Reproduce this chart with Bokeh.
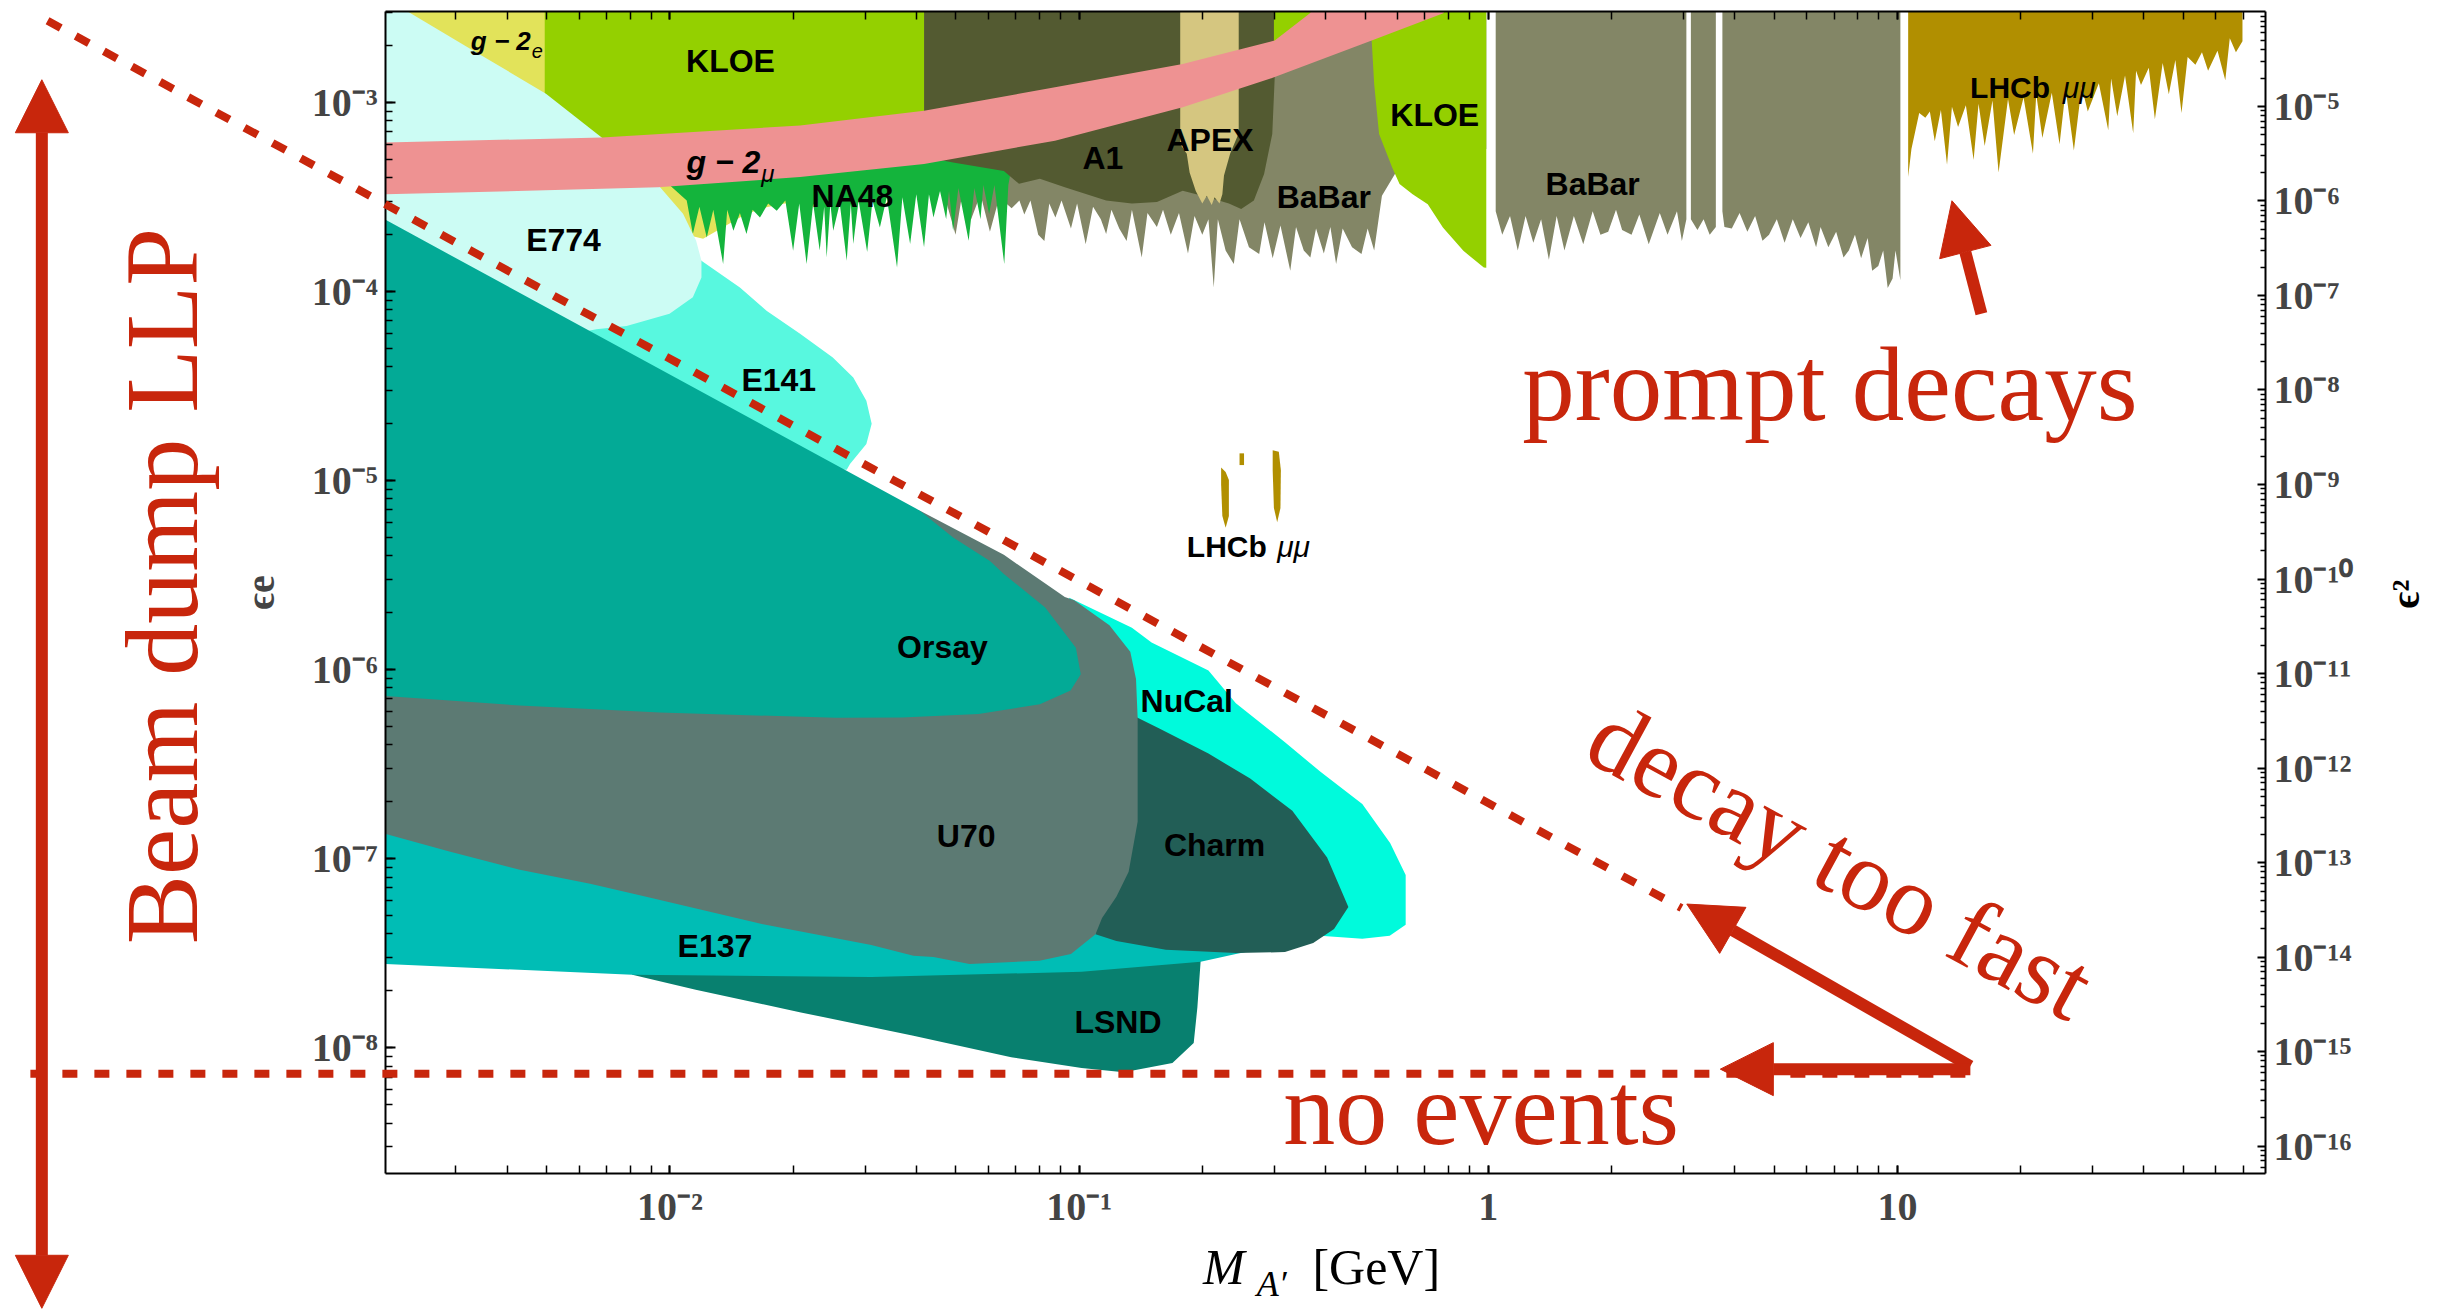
import numpy as np
from bokeh.plotting import figure
from bokeh.models import (Range1d, LogAxis, LogScale, LogTicker, FixedTicker, Label,
                          Arrow, NormalHead, ColumnDataSource, CustomJSTickFormatter)
from bokeh.core.properties import value
from bokeh.embed import file_html
from bokeh.resources import INLINE

# ---------------- data: outlines as log10(M_A'/GeV), log10(eps) ----------------
# plotted box (axes extent) and the surrounding view used for the annotations
box_m = (0.00202, 79.3)
box_eps = (2.16e-9, 3.03e-3)
box_eps2 = (5.13e-17, 1.01e-4)
view_m = (2.312e-4, 212.3)
view_eps = (4.077e-10, 3.461e-3)
view_eps2 = (1.821e-18, 1.322e-4)

g2e_logm = [-2.695, -1.348, -1.348, -1.764, -1.813, -1.919, -1.959, -2.493]
g2e_logeps = [-2.519, -2.519, -3.370, -3.555, -3.589, -3.721, -3.700, -3.287]

kloe1_logm = [-2.306, -1.379, -1.379, -2.306]
kloe1_logeps = [-2.519, -2.519, -3.287, -3.287]

babar_a_logm = [-1.329, -1.302, -1.287, -1.264, -1.241, -1.218, -1.195, -1.165, -1.146, -1.134,
                -1.119, -1.100, -1.085, -1.073, -1.058, -1.043, -1.020, -1.005, -0.984, -0.966,
                -0.947, -0.934, -0.921, -0.902, -0.884, -0.871, -0.847, -0.833, -0.810, -0.795,
                -0.776, -0.756, -0.734, -0.718, -0.699, -0.684, -0.671, -0.661, -0.642, -0.622,
                -0.608, -0.585, -0.560, -0.547, -0.527, -0.508, -0.484, -0.470, -0.451, -0.435,
                -0.421, -0.402, -0.386, -0.372, -0.356, -0.333, -0.310, -0.295, -0.279,
                -0.260, -0.203, -0.005, -0.005, -1.329]
babar_a_logeps = [-3.494, -3.700, -3.502, -3.618, -3.486, -3.684, -3.502, -3.560, -3.519, -3.593,
                  -3.519, -3.700, -3.733, -3.535, -3.609, -3.519, -3.667, -3.535, -3.750, -3.552,
                  -3.618, -3.696, -3.568, -3.667, -3.733, -3.568, -3.820, -3.585, -3.659, -3.568,
                  -3.700, -3.585, -3.799, -3.601, -3.700, -3.618, -3.979, -3.618, -3.783, -3.855,
                  -3.618, -3.766, -3.802, -3.634, -3.824, -3.651, -3.890, -3.659, -3.783, -3.820,
                  -3.667, -3.799, -3.659, -3.855, -3.667, -3.766, -3.802, -3.667, -3.783,
                  -3.494, -3.287, -3.246, -2.519, -2.519]
babar_b_logm = [0.018, 0.484, 0.484, 0.473, 0.461, 0.438, 0.419, 0.392, 0.369, 0.350, 0.327, 0.312,
                0.293, 0.274, 0.255, 0.232, 0.209, 0.186, 0.167, 0.148, 0.129, 0.110, 0.091, 0.072,
                0.053, 0.034, 0.018]
babar_b_logeps = [-2.519, -2.519, -3.618, -3.733, -3.576, -3.700, -3.585, -3.750, -3.593, -3.700,
                  -3.675, -3.568, -3.684, -3.700, -3.576, -3.750, -3.601, -3.783, -3.601, -3.832,
                  -3.618, -3.742, -3.601, -3.783, -3.601, -3.700, -3.576]
babar_c_logm = [0.495, 0.556, 0.556, 0.541, 0.526, 0.511, 0.495]
babar_c_logeps = [-2.519, -2.519, -3.659, -3.700, -3.618, -3.675, -3.618]
babar_d_logm = [0.572, 1.007, 1.007, 0.995, 0.988, 0.976, 0.965, 0.953, 0.938, 0.927, 0.911, 0.896,
                0.881, 0.868, 0.850, 0.831, 0.812, 0.801, 0.782, 0.763, 0.744, 0.724, 0.705, 0.686,
                0.670, 0.652, 0.633, 0.614, 0.595, 0.577, 0.572]
babar_d_logeps = [-2.519, -2.519, -3.940, -3.783, -3.931, -3.981, -3.783, -3.865, -3.890, -3.717,
                  -3.824, -3.700, -3.783, -3.820, -3.684, -3.766, -3.659, -3.766, -3.634, -3.717,
                  -3.618, -3.742, -3.618, -3.700, -3.732, -3.601, -3.684, -3.585, -3.667, -3.659,
                  -3.576]

na48_logm = [-2.035, -1.959, -1.944, -1.928, -1.910, -1.894, -1.870, -1.860, -1.845, -1.829,
             -1.813, -1.798, -1.780, -1.760, -1.739, -1.718, -1.699, -1.684, -1.666, -1.650,
             -1.634, -1.623, -1.617, -1.608, -1.601, -1.585, -1.568, -1.558, -1.552, -1.539,
             -1.518, -1.505, -1.487, -1.470, -1.445, -1.432, -1.413, -1.398, -1.379, -1.367,
             -1.356, -1.340, -1.325, -1.318, -1.308, -1.295, -1.270, -1.256, -1.241, -1.234,
             -1.220, -1.207, -1.183, -1.173, -1.157]
na48_logeps = [-3.370, -3.519, -3.696, -3.552, -3.714, -3.568, -3.855, -3.568, -3.679, -3.585,
               -3.696, -3.568, -3.609, -3.535, -3.573, -3.519, -3.785, -3.535, -3.855, -3.535,
               -3.783, -3.552, -3.820, -3.535, -3.679, -3.535, -3.837, -3.535, -3.749, -3.519,
               -3.791, -3.519, -3.661, -3.502, -3.873, -3.502, -3.749, -3.486, -3.766, -3.486,
               -3.609, -3.469, -3.618, -3.469, -3.679, -3.453, -3.732, -3.453, -3.618, -3.436,
               -3.590, -3.436, -3.855, -3.436, -3.246]

a1_logm = [-1.379, -0.522, -0.522, -0.528, -0.548, -0.573, -0.604, -0.634, -0.685, -0.747,
           -0.810, -0.871, -0.934, -1.035, -1.096, -1.147, -1.184, -1.308, -1.379]
a1_logeps = [-2.519, -2.519, -2.866, -3.167, -3.378, -3.519, -3.563, -3.535, -3.502, -3.467,
             -3.527, -3.535, -3.519, -3.449, -3.403, -3.430, -3.362, -3.317, -3.287]

apex_logm = [-0.753, -0.610, -0.610, -0.631, -0.646, -0.650, -0.657, -0.669, -0.676, -0.688,
             -0.699, -0.715, -0.730, -0.737, -0.753]
apex_logeps = [-2.519, -2.519, -3.163, -3.271, -3.386, -3.486, -3.535, -3.502, -3.543, -3.494,
               -3.535, -3.469, -3.370, -3.271, -3.221]

kloe2_logm = [-0.524, -0.005, -0.005, -0.011, -0.061, -0.111, -0.148, -0.185, -0.217, -0.235,
              -0.267, -0.279, -0.285, -0.394, -0.524]
kloe2_logeps = [-2.519, -2.519, -3.874, -3.873, -3.785, -3.661, -3.538, -3.485, -3.432, -3.344,
                -3.167, -2.903, -2.673, -2.709, -2.751]

lhcb_logm = [1.026, 1.843,
             1.843, 1.827, 1.812, 1.801, 1.782, 1.759, 1.744, 1.728, 1.709, 1.694,
             1.679, 1.663, 1.648, 1.629, 1.614, 1.595, 1.583, 1.576, 1.556, 1.537,
             1.522, 1.515, 1.492, 1.465, 1.450, 1.431, 1.411, 1.396, 1.377, 1.354,
             1.339, 1.331, 1.308, 1.285, 1.270, 1.247, 1.232, 1.213, 1.198, 1.186,
             1.167, 1.148, 1.133, 1.121, 1.106, 1.091, 1.079, 1.068, 1.053, 1.034, 1.026]
lhcb_logeps = [-2.519, -2.519,
               -2.676, -2.734, -2.660, -2.883, -2.726, -2.833, -2.734, -2.800, -2.759, -3.056,
               -2.775, -2.957, -2.792, -3.089, -2.817, -2.908, -2.833, -3.163, -2.858, -3.073,
               -2.874, -3.147, -2.899, -3.048, -2.916, -3.254, -2.932, -3.221, -2.949, -3.188,
               -2.957, -3.271, -2.974, -3.172, -2.982, -3.370, -2.990, -3.230, -3.007, -3.304,
               -3.015, -3.130, -3.023, -3.329, -3.040, -3.205, -3.048, -3.081, -3.056, -3.246,
               -3.395]
lhcb_isl_logm = [[-0.653, -0.642, -0.634, -0.634, -0.642, -0.650, -0.653],
                 [-0.527, -0.512, -0.507, -0.508, -0.516, -0.524, -0.527],
                 [-0.608, -0.597, -0.597, -0.608]]
lhcb_isl_logeps = [[-4.931, -4.955, -4.997, -5.187, -5.249, -5.187, -5.021],
                   [-4.840, -4.848, -4.946, -5.145, -5.220, -5.145, -4.946],
                   [-4.856, -4.856, -4.918, -4.918]]

e141_logm = [-2.035, -1.923, -1.829, -1.764, -1.682, -1.602, -1.552, -1.520, -1.507, -1.520,
             -1.560, -1.568, -1.653, -2.493, -2.493]
e141_logeps = [-3.618, -3.837, -3.979, -4.102, -4.224, -4.349, -4.455, -4.578, -4.699, -4.807,
               -4.912, -4.943, -4.939, -4.113, -3.700]

e774_logm = [-2.695, -2.641, -2.474, -2.303, -2.166, -2.092, -2.024, -1.968, -1.936,
             -1.923, -1.923, -1.944, -2.001, -2.106, -2.180, -2.226, -2.695]
e774_logeps = [-2.519, -2.519, -2.734, -2.954, -3.187, -3.320, -3.449, -3.589, -3.732,
               -3.837, -3.926, -4.031, -4.118, -4.182, -4.199, -4.220, -3.700]

g2mu_logm = [-2.695, -2.166, -1.682, -1.379, -1.059, -0.747, -0.522, -0.436, -0.433,
             -0.107, -0.110, -0.285, -0.522, -0.747, -1.059, -1.379, -1.682, -2.029, -2.695]
g2mu_logeps = [-3.212, -3.185, -3.122, -3.044, -2.920, -2.797, -2.673, -2.528, -2.519,
               -2.519, -2.528, -2.673, -2.866, -3.026, -3.202, -3.325, -3.395, -3.449, -3.486]

lsnd_logm = [-2.111, -0.737, -0.703, -0.711, -0.720, -0.772, -0.891, -0.994, -1.166, -1.405,
             -1.680, -1.937, -2.092]
lsnd_logeps = [-7.540, -7.515, -7.540, -7.786, -7.975, -8.080, -8.130, -8.107, -8.050, -7.936,
               -7.813, -7.693, -7.614]

e137_logm = [-2.695, -1.501, -0.966, -0.737, -0.508, -0.617, -0.703, -0.994, -1.508, -2.092,
             -2.695]
e137_logeps = [-6.797, -7.086, -7.292, -7.416, -7.457, -7.504, -7.545, -7.598, -7.626, -7.614,
               -7.557]

nucal_logm = [-1.043, -1.024, -0.871, -0.823, -0.684, -0.617, -0.497, -0.411, -0.308, -0.240,
              -0.202, -0.202, -0.241, -0.308, -0.411, -0.470, -0.737, -0.890]
nucal_logeps = [-5.930, -5.620, -5.778, -5.856, -6.004, -6.178, -6.384, -6.539, -6.711, -6.917,
                -7.086, -7.350, -7.408, -7.424, -7.408, -7.334, -6.590, -6.260]

charm_logm = [-0.890, -0.857, -0.804, -0.684, -0.582, -0.479, -0.394, -0.342, -0.377, -0.428,
              -0.497, -0.616, -0.788, -0.909, -0.960, -0.966]
charm_logeps = [-6.219, -6.255, -6.312, -6.444, -6.576, -6.747, -6.993, -7.255, -7.372, -7.446,
                -7.494, -7.499, -7.482, -7.435, -7.400, -7.086]

u70_logm = [-2.695, -2.695, -1.463, -1.424, -1.390, -1.184, -1.035, -1.012, -0.926, -0.875,
            -0.861, -0.857, -0.857, -0.879, -0.909, -0.944, -0.960, -1.020, -1.097, -1.268,
            -1.356, -1.405, -1.508, -1.766, -2.058, -2.195, -2.367, -2.539, -2.692]
u70_logeps = [-6.871, -6.095, -6.095, -5.269, -5.158, -5.393, -5.616, -5.633, -5.765, -5.905,
              -6.050, -6.255, -6.804, -7.069, -7.201, -7.314, -7.400, -7.504, -7.540, -7.557,
              -7.520, -7.513, -7.457, -7.350, -7.201, -7.132, -7.059, -6.962, -6.871]

orsay_logm = [-2.695, -1.390, -1.308, -1.218, -1.184, -1.083, -1.008, -0.996, -1.021, -1.096,
              -1.246, -1.433, -1.594, -2.024, -2.367, -2.695]
orsay_logeps = [-3.621, -5.158, -5.301, -5.426, -5.494, -5.671, -5.884, -6.024, -6.111, -6.183,
                -6.235, -6.253, -6.255, -6.227, -6.190, -6.140]

# region name labels
label_text = ["KLOE", "E774", "E141", "NA48", "A1", "APEX", "BaBar", "KLOE", "BaBar",
              "Orsay", "NuCal", "U70", "Charm", "E137", "LSND"]
label_logm = [-1.852, -2.260, -1.734, -1.554, -0.942, -0.680, -0.402, -0.131, 0.255,
              -1.334, -0.737, -1.276, -0.669, -1.890, -0.905]
label_logeps = [-2.780, -3.729, -4.468, -3.494, -3.296, -3.197, -3.498, -3.069, -3.432,
                -5.880, -6.165, -6.879, -6.929, -7.462, -7.866]
lhcb_label_logm = [1.275, -0.639]
lhcb_mumu_logm = [1.404, -0.516]
lhcb_label_logeps = [-2.920, -5.350]

# guide lines (log10 m, log10 eps)
decay_line_logm = [-3.521, 0.472]
decay_line_logeps = [-2.568, -7.261]
noevent_line_logm = [-3.563, 1.174]
noevent_line_logeps = [-8.138, -8.138]

eps2_ticks = [10.0 ** e for e in range(-16, -4)]
eps2_minor = [m * 10.0 ** e for e in range(-17, -3) for m in range(2, 10)
              if box_eps2[0] <= m * 10.0 ** e <= box_eps2[1]]

RED = "#c8260c"
SERIF = "Liberation Serif"


def ten(a):
    return [10.0 ** v for v in a]


p = figure(width=2440, height=1310, x_axis_type="log", y_axis_type="log",
           x_axis_location=None, y_axis_location=None,
           x_range=Range1d(*view_m), y_range=Range1d(*view_eps),
           output_backend="svg", toolbar_location=None, min_border=0,
           background_fill_color="white", border_fill_color="white")
p.grid.visible = False
p.outline_line_color = None
p.extra_y_ranges = {"eps2": Range1d(*view_eps2)}
p.extra_y_scales = {"eps2": LogScale()}

fmt_code = """
const e = Math.round(Math.log10(tick));
if (e === 0) { return "1"; }
if (e === 1) { return "10"; }
const sup = {"-": "⁻", "0": "⁰", "1": "¹", "2": "²", "3": "³", "4": "⁴",
             "5": "⁵", "6": "⁶", "7": "⁷", "8": "⁸", "9": "⁹"};
return "10" + String(e).split("").map(c => sup[c]).join("");
"""


def style_axis(ax, major_in, minor_in):
    ax.axis_line_width = 2
    ax.axis_line_color = "black"
    ax.major_tick_in = major_in
    ax.major_tick_out = 0
    ax.minor_tick_in = minor_in
    ax.minor_tick_out = 0
    ax.major_tick_line_width = 2
    ax.minor_tick_line_width = 1.5
    ax.major_label_text_font = SERIF
    ax.major_label_text_font_style = "bold"
    ax.major_label_text_font_size = "40px"


bottom = LogAxis(fixed_location=box_eps[0], bounds=box_m,
                 ticker=LogTicker(num_minor_ticks=10),
                 formatter=CustomJSTickFormatter(code=fmt_code))
style_axis(bottom, 8, 8)
bottom.major_label_standoff = 10
p.add_layout(bottom, "below")

top = LogAxis(fixed_location=box_eps[1], bounds=box_m,
              ticker=LogTicker(num_minor_ticks=10),
              formatter=CustomJSTickFormatter(code="return '';"))
style_axis(top, 8, 8)
top.major_label_text_font_size = "1px"
top.major_label_standoff = 0
p.add_layout(top, "above")

left = LogAxis(fixed_location=box_m[0], bounds=box_eps,
               ticker=LogTicker(num_minor_ticks=10),
               formatter=CustomJSTickFormatter(code=fmt_code))
style_axis(left, 10, 7)
left.major_label_standoff = 8
left.axis_label = "ϵe"
left.axis_label_text_font = SERIF
left.axis_label_text_font_style = "bold"
left.axis_label_text_font_size = "40px"
left.axis_label_standoff = 26
p.add_layout(left, "left")

right = LogAxis(y_range_name="eps2", fixed_location=box_m[1], bounds=box_eps2,
                ticker=FixedTicker(ticks=eps2_ticks, minor_ticks=eps2_minor),
                formatter=CustomJSTickFormatter(code=fmt_code))
style_axis(right, 8, 5)
right.major_label_standoff = 8
p.add_layout(right, "right")
# right-axis title, reading bottom-to-top as in the original
p.add_layout(Label(x=10 ** 2.242, y=10 ** -5.600, text="ϵ²", text_font=SERIF,
                   text_font_style="bold", text_font_size="40px", text_align="center",
                   text_baseline="middle", angle=np.pi / 2, text_color="black"))


# ---------------- regions ----------------
def region(lm, le, color):
    p.patch(ten(lm), ten(le), fill_color=color, line_color=None)


region(g2e_logm, g2e_logeps, "#e2e35a")
region(kloe1_logm, kloe1_logeps, "#94d000")
p.patches([ten(babar_a_logm), ten(babar_b_logm), ten(babar_c_logm), ten(babar_d_logm)],
          [ten(babar_a_logeps), ten(babar_b_logeps), ten(babar_c_logeps), ten(babar_d_logeps)],
          fill_color="#838666", line_color=None)
region(na48_logm, na48_logeps, "#14b43c")
region(a1_logm, a1_logeps, "#535a31")
region(apex_logm, apex_logeps, "#d5c680")
region(kloe2_logm, kloe2_logeps, "#94d000")
region(lhcb_logm, lhcb_logeps, "#b18f00")
p.patches([ten(a) for a in lhcb_isl_logm], [ten(a) for a in lhcb_isl_logeps],
          fill_color="#b18f00", line_color=None)
region(e141_logm, e141_logeps, "#58f8df")
region(e774_logm, e774_logeps, "#ccfcf4")
region(g2mu_logm, g2mu_logeps, "#ee9292")
region(lsnd_logm, lsnd_logeps, "#08806f")
region(e137_logm, e137_logeps, "#00bdb5")
region(nucal_logm, nucal_logeps, "#00fadc")
region(charm_logm, charm_logeps, "#225e56")
region(u70_logm, u70_logeps, "#5c7a73")
region(orsay_logm, orsay_logeps, "#03aa96")

# ---------------- region labels ----------------
SANS = value("Liberation Sans")
src = ColumnDataSource(dict(x=ten(label_logm), y=ten(label_logeps), t=label_text))
p.text("x", "y", text="t", source=src, text_font=SANS, text_font_style="bold",
       text_font_size="32px", text_align="center", text_baseline="middle", text_color="black")
src2 = ColumnDataSource(dict(x=ten(lhcb_label_logm), y=ten(lhcb_label_logeps), t=["LHCb", "LHCb"]))
p.text("x", "y", text="t", source=src2, text_font=SANS, text_font_style="bold",
       text_font_size="30px", text_align="center", text_baseline="middle", text_color="black")
src3 = ColumnDataSource(dict(x=ten(lhcb_mumu_logm), y=ten(lhcb_label_logeps), t=["μμ", "μμ"]))
p.text("x", "y", text="t", source=src3, text_font=SANS, text_font_style="italic",
       text_font_size="30px", text_align="left", text_baseline="middle", text_color="black")
g2_src = ColumnDataSource(dict(x=ten([-2.340, -1.779]), y=ten([-2.677, -3.317]),
                               t=["g − 2", "g − 2"], s=["26px", "32px"]))
p.text("x", "y", text="t", source=g2_src, text_font=SANS, text_font_style="bold italic",
       text_font_size="s", text_align="right", text_baseline="middle", text_color="black")
g2s_src = ColumnDataSource(dict(x=ten([-2.338, -1.777]), y=ten([-2.726, -3.374]),
                                t=["e", "μ"], s=["20px", "24px"]))
p.text("x", "y", text="t", source=g2s_src, text_font=SANS, text_font_style="italic",
       text_font_size="s", text_align="left", text_baseline="middle", text_color="black")

# ---------------- annotations ----------------
p.add_layout(Arrow(end=None, x_start=10 ** decay_line_logm[0], y_start=10 ** decay_line_logeps[0],
                   x_end=10 ** decay_line_logm[1], y_end=10 ** decay_line_logeps[1],
                   line_color=RED, line_width=8, line_dash="15 17"))
p.add_layout(Arrow(end=None, x_start=10 ** noevent_line_logm[0], y_start=10 ** noevent_line_logeps[0],
                   x_end=10 ** noevent_line_logm[1], y_end=10 ** noevent_line_logeps[1],
                   line_color=RED, line_width=8, line_dash="15 17"))


def head():
    return NormalHead(size=53, fill_color=RED, line_color=RED, line_width=1)


p.add_layout(Arrow(start=head(), end=head(), x_start=10 ** -3.535, y_start=10 ** -2.880,
                   x_end=10 ** -3.535, y_end=10 ** -9.378, line_color=RED, line_width=12))
p.add_layout(Arrow(end=head(), x_start=10 ** 1.178, y_start=10 ** -8.097,
                   x_end=10 ** 0.485, y_end=10 ** -7.240, line_color=RED, line_width=12))
p.add_layout(Arrow(end=head(), x_start=10 ** 1.178, y_start=10 ** -8.113,
                   x_end=10 ** 0.567, y_end=10 ** -8.113, line_color=RED, line_width=12))
p.add_layout(Arrow(end=head(), x_start=10 ** 1.205, y_start=10 ** -4.118,
                   x_end=10 ** 1.133, y_end=10 ** -3.520, line_color=RED, line_width=12))

p.add_layout(Label(x=10 ** 0.083, y=10 ** -4.494, text="prompt decays", text_color=RED,
                   text_font=SERIF, text_font_size="105px", text_align="left",
                   text_baseline="middle"))
p.add_layout(Label(x=10 ** -0.501, y=10 ** -8.322, text="no events", text_color=RED,
                   text_font=SERIF, text_font_size="104px", text_align="left",
                   text_baseline="middle"))
p.add_layout(Label(x=10 ** 0.861, y=10 ** -7.012, text="decay too fast", text_color=RED,
                   text_font=SERIF, text_font_size="100px", text_align="center",
                   text_baseline="middle", angle=-0.497))
p.add_layout(Label(x=10 ** -3.242, y=10 ** -5.558, text="Beam dump LLP", text_color=RED,
                   text_font=SERIF, text_font_size="104px", text_align="center",
                   text_baseline="middle", angle=np.pi / 2))

# x-axis title
p.add_layout(Label(x=10 ** -0.697, y=10 ** -9.160, text="M", text_font=SERIF,
                   text_font_style="italic", text_font_size="50px", text_align="left",
                   text_baseline="middle", text_color="black"))
p.add_layout(Label(x=10 ** -0.566, y=10 ** -9.250, text="A′", text_font=SERIF,
                   text_font_style="italic", text_font_size="36px", text_align="left",
                   text_baseline="middle", text_color="black"))
p.add_layout(Label(x=10 ** -0.430, y=10 ** -9.160, text="[GeV]", text_font=SERIF,
                   text_font_size="50px", text_align="left", text_baseline="middle",
                   text_color="black"))

with open("out.html", "w", encoding="utf-8") as f:
    f.write(file_html(p, INLINE))
